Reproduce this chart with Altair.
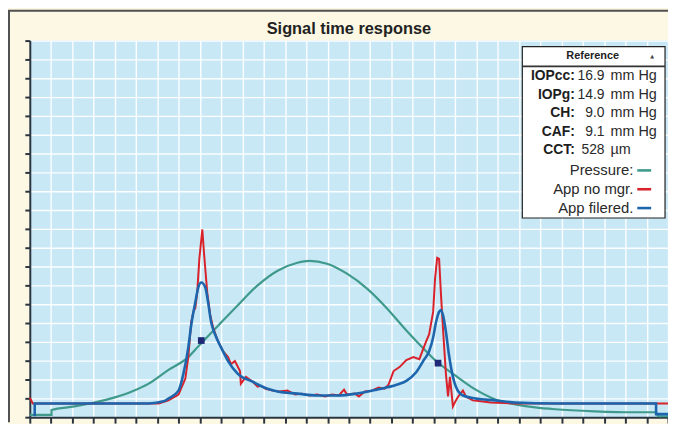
import altair as alt
import pandas as pd

# ---------------- data ----------------
title_text = "Signal time response"

pressure_x = [0, 1.02, 1.02, 2.10, 3.03, 3.96, 4.80, 5.59, 6.52, 7.45, 7.92, 8.85, 9.78,
              10.71, 11.65, 12.58, 13.14, 13.97, 14.91, 15.84, 16.77, 17.70, 18.63, 19.10,
              20.03, 20.96, 21.89, 22.82, 23.76, 24.69, 26.55, 28.41, 29.44, 29.53, 30.0]
pressure_y = [0.12, 0.12, 0.38, 0.57, 0.78, 1.04, 1.36, 1.78, 2.51, 3.19, 3.76, 4.86, 5.95,
              7.00, 7.78, 8.20, 8.30, 8.15, 7.62, 6.84, 5.80, 4.60, 3.50, 2.98,
              2.19, 1.46, 0.94, 0.68, 0.52, 0.42, 0.31, 0.26, 0.26, 0.05, 0.05]

raw_x = [0, 0.14, 6.06, 6.52, 6.99, 7.31, 7.45, 7.59, 7.69, 7.78, 7.87, 7.97, 8.11, 8.20,
         8.34, 8.48, 8.62, 8.85, 9.08, 9.32, 9.46, 9.64, 9.88, 9.92, 10.16, 10.48, 10.71,
         10.85, 11.09, 11.41, 11.74, 12.11, 12.48, 12.81, 13.14, 13.51, 13.88, 14.21, 14.53,
         14.77, 14.91, 15.28, 15.47, 15.75, 16.07, 16.40, 16.68, 16.86, 17.10, 17.38, 17.70,
         18.03, 18.31, 18.63, 18.77, 18.96, 19.05, 19.15, 19.24, 19.33, 19.42, 19.56, 19.66,
         19.75, 19.89, 20.03, 20.17, 20.36, 20.50, 20.82, 21.20, 21.66, 22.82, 29.44, 30.0]
raw_y = [1.04, 0.73, 0.73, 0.89, 1.20, 2.04, 3.19, 5.07, 5.59, 5.80, 6.63, 8.41, 9.97, 8.56,
         6.63, 5.43, 4.75, 4.02, 3.50, 3.19, 2.82, 2.98, 2.45, 1.78, 2.14, 1.88, 1.62,
         1.67, 1.51, 1.41, 1.36, 1.41, 1.20, 1.25, 1.15, 1.20, 1.10, 1.20, 1.15,
         1.46, 1.20, 1.25, 1.10, 1.36, 1.41, 1.57, 1.51, 1.72, 2.45, 2.66, 3.03,
         3.19, 3.08, 4.02, 4.39, 5.59, 7.36, 8.46, 8.41, 6.48, 4.75, 2.30, 1.10,
         2.14, 0.57, 0.89, 1.15, 1.41, 1.10, 0.89, 0.84, 0.78, 0.73, 0.73, 0.73]

filt_x = [0.23, 0.23, 5.59, 6.29, 6.52, 6.99, 7.22, 7.45, 7.59, 7.78, 7.92, 8.06, 8.25, 8.38,
          8.52, 8.71, 8.99, 9.32, 9.78, 10.48, 11.18, 11.65, 12.58, 13.51, 14.44, 15.37,
          16.30, 17.24, 17.70, 18.17, 18.49, 18.77, 18.96, 19.10, 19.24, 19.33, 19.42, 19.56,
          19.70, 19.89, 20.03, 20.36, 20.96, 21.89, 22.82, 24.69, 29.44, 29.44, 30.0]
filt_y = [0.05, 0.73, 0.73, 0.84, 0.99, 1.41, 2.30, 3.71, 4.91, 6.11, 6.89, 7.15, 6.89, 6.11,
          5.07, 4.39, 3.71, 2.98, 2.30, 1.88, 1.51, 1.36, 1.25, 1.15, 1.15, 1.25,
          1.46, 1.72, 1.93, 2.40, 2.98, 3.50, 4.23, 5.07, 5.59, 5.69, 5.43, 4.54,
          3.34, 2.14, 1.62, 1.15, 0.99, 0.89, 0.78, 0.73, 0.73, 0.16, 0.16]

marker_x = [8.06, 19.19]
marker_y = [4.07, 2.87]

ref_header = "Reference"
ref_labels = ["IOPcc:", "IOPg:", "CH:", "CAF:", "CCT:"]
ref_values = ["16.9", "14.9", "9.0", "9.1", "528"]
ref_units = ["mm Hg", "mm Hg", "mm Hg", "mm Hg", "µm"]
series_names = ["Pressure:", "App no mgr.", "App filered."]

x_ticks = list(range(0, 31))
y_ticks = list(range(0, 21))

# ---------------- styling ----------------
FONT = "Liberation Sans"
C_PRESSURE = "#3f9a8c"
C_RAW = "#d9222b"
C_FILT = "#1d66ad"
C_MARK = "#1e2a78"
series_colors = [C_PRESSURE, C_RAW, C_FILT]
AXIS_C = "#2b3540"

W, H = 644, 380
PAD_L, PAD_T, PAD_R, PAD_B = 22, 31, 0, 5
xs = alt.Scale(domain=[0, 30], nice=False, zero=False)
ys = alt.Scale(domain=[0, 20], nice=False, zero=False)

x_axis = alt.Axis(values=x_ticks, labels=False, title=None, grid=True, gridColor="white",
                  gridWidth=1.4, gridOpacity=0.95, domainColor=AXIS_C, domainWidth=2,
                  tickColor=AXIS_C, tickWidth=2, tickSize=6)
y_axis = alt.Axis(values=y_ticks, labels=False, title=None, grid=True, gridColor="white",
                  gridWidth=1.4, gridOpacity=0.95, domainColor=AXIS_C, domainWidth=2,
                  tickColor=AXIS_C, tickWidth=2, tickSize=5)

df_p = pd.DataFrame({"t": pressure_x, "v": pressure_y, "i": range(len(pressure_x))})
df_r = pd.DataFrame({"t": raw_x, "v": raw_y, "i": range(len(raw_x))})
df_f = pd.DataFrame({"t": filt_x, "v": filt_y, "i": range(len(filt_x))})
df_m = pd.DataFrame({"t": marker_x, "v": marker_y})

pressure = alt.Chart(df_p).mark_line(color=C_PRESSURE, strokeWidth=2.2, interpolate="monotone").encode(
    x=alt.X("t:Q", scale=xs, axis=x_axis),
    y=alt.Y("v:Q", scale=ys, axis=y_axis),
    order="i:O",
)
raw = alt.Chart(df_r).mark_line(color=C_RAW, strokeWidth=2).encode(
    x=alt.X("t:Q", scale=xs, axis=None),
    y=alt.Y("v:Q", scale=ys, axis=None),
    order="i:O",
)
filt = alt.Chart(df_f).mark_line(color=C_FILT, strokeWidth=2.6, interpolate="monotone").encode(
    x=alt.X("t:Q", scale=xs, axis=None),
    y=alt.Y("v:Q", scale=ys, axis=None),
    order="i:O",
)
markers = alt.Chart(df_m).mark_square(color=C_MARK, size=46, opacity=1).encode(
    x=alt.X("t:Q", scale=xs, axis=None),
    y=alt.Y("v:Q", scale=ys, axis=None),
)

one = alt.Data(values=[{}])
# frame of the outer panel (left and top edges)
border_l = alt.Chart(one).mark_rule(color="#505050", strokeWidth=2).encode(
    x=alt.value(1 - PAD_L), y=alt.value(1 - PAD_T), y2=alt.value(H + PAD_B))
border_t = alt.Chart(one).mark_rule(color="#505050", strokeWidth=2).encode(
    x=alt.value(-PAD_L), x2=alt.value(W + PAD_R), y=alt.value(1 - PAD_T))

title = alt.Chart(pd.DataFrame({"s": [title_text]})).mark_text(
    font=FONT, fontSize=16.5, fontWeight="bold", color="#222222", baseline="middle", align="center"
).encode(text="s:N", x=alt.value(W / 2), y=alt.value(-12))

# reference box
BX0, BX1, BY0, BY1 = 497, 641, 6, 179
box = alt.Chart(one).mark_rect(fill="white", stroke="#222222", strokeWidth=1.2).encode(
    x=alt.value(BX0), x2=alt.value(BX1), y=alt.value(BY0), y2=alt.value(BY1))
sep = alt.Chart(one).mark_rule(color="#333333", strokeWidth=1.6).encode(
    x=alt.value(BX0), x2=alt.value(BX1), y=alt.value(26))
header = alt.Chart(pd.DataFrame({"s": [ref_header]})).mark_text(
    font=FONT, fontSize=11, fontWeight="bold", color="#222", baseline="middle", align="center"
).encode(text="s:N", x=alt.value(568), y=alt.value(16))
arrow = alt.Chart(pd.DataFrame({"s": ["▲"]})).mark_text(
    font="DejaVu Sans", fontSize=5, color="#444", baseline="middle", align="center"
).encode(text="s:N", x=alt.value(628), y=alt.value(16))

rows = pd.DataFrame({"lab": ref_labels, "val": ref_values, "unit": ref_units,
                     "py": [36 + 18.6 * k for k in range(len(ref_labels))]})
lab = alt.Chart(rows).mark_text(font=FONT, fontSize=14, fontWeight="bold", color="#1e1e1e",
                                baseline="middle", align="right").encode(
    text="lab:N", x=alt.value(550), y=alt.Y("py:Q", scale=None, axis=None))
val = alt.Chart(rows).mark_text(font=FONT, fontSize=14, color="#2a2a2a",
                                baseline="middle", align="right").encode(
    text="val:N", x=alt.value(580), y=alt.Y("py:Q", scale=None, axis=None))
unit = alt.Chart(rows).mark_text(font=FONT, fontSize=14.5, color="#2a2a2a",
                                 baseline="middle", align="left").encode(
    text="unit:N", x=alt.value(586), y=alt.Y("py:Q", scale=None, axis=None))

srows = pd.DataFrame({"name": series_names, "col": series_colors,
                      "py": [131 + 19 * k for k in range(len(series_names))]})
sname = alt.Chart(srows).mark_text(font=FONT, fontSize=15, color="#2a2a2a",
                                   baseline="middle", align="right").encode(
    text="name:N", x=alt.value(609), y=alt.Y("py:Q", scale=None, axis=None))
sline = alt.Chart(srows).mark_rule(strokeWidth=2.6).encode(
    x=alt.value(613), x2=alt.value(627), y=alt.Y("py:Q", scale=None, axis=None),
    color=alt.Color("col:N", scale=None, legend=None))

chart = alt.layer(
    pressure, raw, filt, markers, border_l, border_t, title,
    box, sep, header, arrow, lab, val, unit, sname, sline
).resolve_axis(x="independent", y="independent").properties(
    width=W, height=H,
    autosize=alt.AutoSizeParams(type="none"),
    padding={"left": PAD_L, "top": PAD_T, "right": PAD_R, "bottom": PAD_B},
    background="#fcf8e3",
).configure_view(fill="#c8e8f6", strokeWidth=0)

chart.save("out.html", embed_options={"renderer": "svg", "actions": False})
